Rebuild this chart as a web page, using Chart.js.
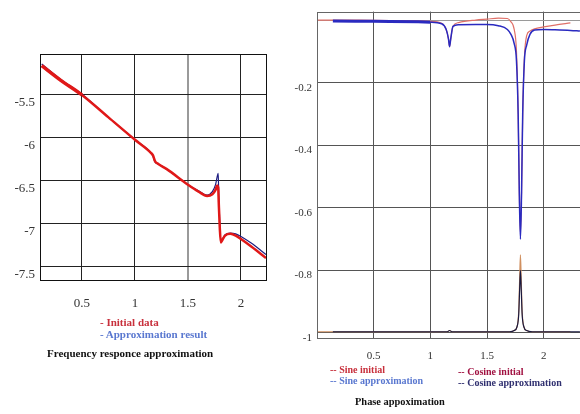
<!DOCTYPE html>
<html>
<head>
<meta charset="utf-8">
<script src="https://cdn.jsdelivr.net/npm/chart.js@4/dist/chart.umd.min.js"></script>
<style>
  html, body { margin: 0; padding: 0; background: #fff; overflow: hidden; }
  body { width: 580px; height: 414px; position: relative; }
  canvas { position: absolute; top: 0; }
  .txt { position: absolute; font-family: "Liberation Serif", "Times New Roman", serif; font-weight: bold; font-size: 11px; line-height: 14px; white-space: nowrap; }
  .small { font-size: 10px; }
</style>
</head>
<body>
<canvas id="freqChart" width="280" height="320" style="left:0px"></canvas>
<canvas id="phaseChart" width="313" height="380" style="left:276px"></canvas>

<div class="txt" style="left:100px; top:315px; color:#c8303c">- Initial data</div>
<div class="txt" style="left:100px; top:327px; color:#5a78d0">- Approximation result</div>
<div class="txt" style="left:47px; top:346px; color:#111">Frequency responce approximation</div>

<div class="txt small" style="left:330px; top:363px; color:#c8303c">-- Sine initial</div>
<div class="txt small" style="left:330px; top:374px; color:#5a78d0">-- Sine approximation</div>
<div class="txt small" style="left:458px; top:365px; color:#a01040">-- Cosine initial</div>
<div class="txt small" style="left:458px; top:376px; color:#303070">-- Cosine approximation</div>
<div class="txt" style="left:355px; top:395px; color:#111; font-size:10.4px">Phase appoximation</div>

<script>
// frequency response (left)
const freqX = [0.12, 0.3, 0.5, 0.75, 1.0, 1.15, 1.17, 1.19, 1.22, 1.3, 1.5, 1.6, 1.68, 1.73, 1.76, 1.775, 1.785, 1.79, 1.80, 1.81, 1.82, 1.85, 1.9, 1.95, 2.0, 2.1, 2.236]
const freqInitial = [-5.17, -5.34, -5.51, -5.77, -6.03, -6.18, -6.21, -6.28, -6.31, -6.37, -6.55, -6.63, -6.68, -6.66, -6.61, -6.56, -6.58, -6.75, -7.05, -7.22, -7.2, -7.14, -7.12, -7.14, -7.18, -7.27, -7.40]
const freqApprox = [-5.15, -5.33, -5.5, -5.77, -6.03, -6.18, -6.22, -6.29, -6.31, -6.37, -6.55, -6.62, -6.67, -6.63, -6.55, -6.46, -6.42, -6.65, -7.0, -7.2, -7.19, -7.13, -7.11, -7.12, -7.15, -7.23, -7.36]
const freqXTicks = [0.5, 1, 1.5, 2]
const freqYTicks = [-7.5, -7, -6.5, -6, -5.5]

// phase (right)
const sineX = [0, 0.14, 0.5, 1.0, 1.1, 1.14, 1.16, 1.17, 1.18, 1.2, 1.25, 1.4, 1.5, 1.6, 1.68, 1.71, 1.74, 1.76, 1.775, 1.785, 1.795, 1.805, 1.815, 1.83, 1.85, 1.88, 1.92, 2.0, 2.1, 2.236, 2.32]
const sineInitial = [0, 0, -0.001, -0.004, -0.01, -0.03, -0.06, -0.085, -0.06, -0.02, -0.008, 0.0, 0.003, 0.006, 0.005, -0.005, -0.03, -0.1, -0.3, -0.55, -0.684, -0.55, -0.3, -0.12, -0.05, -0.035, -0.028, -0.022, -0.016, -0.009, null]
const sineApprox = [null, -0.003, -0.004, -0.007, -0.012, -0.03, -0.06, -0.085, -0.06, -0.02, -0.015, -0.014, -0.014, -0.018, -0.03, -0.045, -0.075, -0.13, -0.3, -0.55, -0.70, -0.55, -0.3, -0.13, -0.08, -0.045, -0.032, -0.03, -0.031, -0.033, -0.035]
const cosX = [0, 0.14, 0.5, 1.0, 1.15, 1.17, 1.19, 1.5, 1.7, 1.74, 1.765, 1.78, 1.788, 1.795, 1.802, 1.81, 1.825, 1.85, 1.9, 2.0, 2.236, 2.32]
const cosInitial = [-0.996, -0.996, -0.996, -0.996, -0.996, -0.992, -0.996, -0.996, -0.996, -0.992, -0.98, -0.93, -0.83, -0.75, -0.83, -0.93, -0.98, -0.992, -0.996, -0.996, -0.996, null]
const cosApprox = [null, -0.996, -0.996, -0.996, -0.996, -0.992, -0.996, -0.996, -0.996, -0.992, -0.98, -0.94, -0.86, -0.80, -0.86, -0.94, -0.98, -0.992, -0.996, -0.996, -0.996, -0.996]
const phaseXTicks = [0.5, 1, 1.5, 2]
const phaseYTicks = [-1, -0.8, -0.6, -0.4, -0.2, 0]


function toPoints(xs, ys) {
    return xs.map((x, i) => ({ x: x, y: ys[i] }))
}

// draws the box round the plot area
const framePlugin = {
    id: 'frame',
    afterDraw(chart, args, opts) {
        var a = chart.chartArea
        var ctx = chart.ctx
        ctx.save()
        ctx.strokeStyle = opts.color
        ctx.lineWidth = 1
        ctx.strokeRect(Math.round(a.left) + 0.5, Math.round(a.top) + 0.5, Math.round(a.right - a.left), Math.round(a.bottom - a.top))
        ctx.restore()
    }
}

function lineSet(label, data, color, width) {
    return {
        label: label,
        data: data,
        borderColor: color,
        borderWidth: width,
        pointRadius: 0,
        fill: false,
        cubicInterpolationMode: 'monotone',
        spanGaps: false
    }
}

function axis(min, max, tickValues, opts) {
    return {
        type: 'linear',
        min: min,
        max: max,
        afterBuildTicks: (scale) => { scale.ticks = tickValues.map(v => ({ value: v })) },
        afterFit: (scale) => {
            if (opts.width) scale.width = opts.width
            if (opts.height) scale.height = opts.height
        },
        border: { display: false },
        grid: {
            drawTicks: false,
            color: opts.gridColor,
            lineWidth: opts.gridWidth || 1
        },
        ticks: {
            autoSkip: false,
            maxRotation: 0,
            padding: opts.padding,
            labelOffset: opts.labelOffset || 0,
            color: '#333',
            font: { family: '"Liberation Serif", "Times New Roman", serif', size: opts.fontSize },
            callback: (v) => v === 0 ? '' : String(v)
        }
    }
}

var freqRed = lineSet('Initial data', toPoints(freqX, freqInitial), '#e01818', 2.5)
freqRed.segment = { borderWidth: ctx => ctx.p0.parsed.x < 0.5 ? 3.5 : 2.5 }
var freqBlue = lineSet('Approximation result', toPoints(freqX, freqApprox), '#1c1c80', 1.2)

new Chart(document.getElementById('freqChart'), {
    type: 'line',
    data: { datasets: [freqRed, freqBlue] },
    plugins: [framePlugin],
    options: {
        responsive: false,
        animation: false,
        layout: { padding: { top: 54, right: 14, left: 0, bottom: 0 } },
        plugins: { legend: { display: false }, tooltip: { enabled: false }, frame: { color: '#111' } },
        scales: {
            x: axis(0.104, 2.236, freqXTicks, {
                height: 40, padding: 16, fontSize: 13,
                gridColor: ctx => ctx.tick && ctx.tick.value === 1.5 ? '#9a9a9a' : '#222',
                gridWidth: ctx => ctx.tick && ctx.tick.value === 1.5 ? 2 : 1
            }),
            y: axis(-7.655, -5.035, freqYTicks, { width: 40, padding: 5, labelOffset: 8, fontSize: 13, gridColor: '#222' })
        }
    }
})

var sineBlue = lineSet('Sine approximation', toPoints(sineX, sineApprox), '#2a2ac0', 1.5)
sineBlue.segment = { borderWidth: ctx => ctx.p0.parsed.x < 0.9 ? 3 : 1.5 }

new Chart(document.getElementById('phaseChart'), {
    type: 'line',
    data: {
        datasets: [
            sineBlue,
            lineSet('Sine initial', toPoints(sineX, sineInitial), '#e07068', 1.2),
            lineSet('Cosine approximation', toPoints(cosX, cosApprox), '#1a1a40', 1.2),
            lineSet('Cosine initial', toPoints(cosX, cosInitial), '#d09060', 1.2)
        ]
    },
    plugins: [framePlugin],
    options: {
        responsive: false,
        animation: false,
        layout: { padding: { top: 8, right: 0, left: 0, bottom: 0 } },
        plugins: { legend: { display: false }, tooltip: { enabled: false }, frame: { color: '#666' } },
        scales: {
            x: axis(0, 2.4, phaseXTicks, { height: 42, padding: 12, fontSize: 11, gridColor: '#555' }),
            y: axis(-1.016, 0.027, phaseYTicks, {
                width: 41, padding: 5, labelOffset: 5, fontSize: 11,
                gridColor: ctx => ctx.tick && ctx.tick.value === 0 ? '#9a9a9a' : '#555'
            })
        }
    }
})
</script>
</body>
</html>
